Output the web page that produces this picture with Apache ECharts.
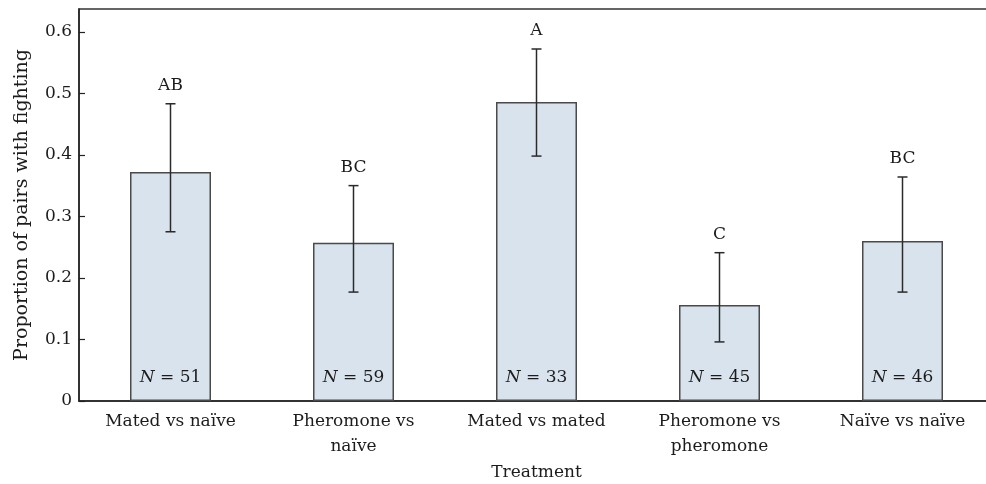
<!DOCTYPE html>
<html>
<head>
<meta charset="utf-8">
<script src="https://cdn.jsdelivr.net/npm/echarts@6/dist/echarts.min.js"></script>
<style>
  html, body { margin: 0; padding: 0; background: #fff; }
  #chart { width: 986px; height: 484px; }
</style>
</head>
<body>
<div id="chart"></div>
<script>
// Proportion of pairs with fighting by treatment, with 95% CI and group letters
const categories = ['Mated vs naïve', 'Pheromone vs\nnaïve', 'Mated vs mated', 'Pheromone vs\npheromone', 'Naïve vs naïve'];
const proportions = [0.372, 0.257, 0.486, 0.156, 0.260];
const lowerCI = [0.275, 0.177, 0.398, 0.096, 0.177];
const upperCI = [0.483, 0.350, 0.572, 0.241, 0.364];
const sampleSizes = [51, 59, 33, 45, 46];
const groupLetters = ['AB', 'BC', 'A', 'C', 'BC'];
const yTicks = [0, 0.1, 0.2, 0.3, 0.4, 0.5, 0.6];

const serif = '"DejaVu Serif", "Liberation Serif", serif';
const ink = '#1c1c1c';
const fs = 17;

const chart = echarts.init(document.getElementById('chart'), null, { renderer: 'canvas' });

const barData = proportions.map((v, i) => ({
  value: v,
  label: {
    show: true,
    position: 'insideBottom',
    distance: 15,
    formatter: '{n|N} = ' + sampleSizes[i],
    fontFamily: serif,
    fontSize: fs,
    color: ink,
    rich: { n: { fontFamily: serif, fontStyle: 'italic', fontSize: fs, color: ink } }
  }
}));

const errorData = categories.map((c, i) => [i, lowerCI[i], upperCI[i], groupLetters[i]]);

chart.setOption({
  animation: false,
  backgroundColor: '#fff',
  grid: {
    left: 79, top: 9, width: 915, height: 392,
    outerBoundsMode: 'none',
    containLabel: false,
    show: true, borderColor: '#333', borderWidth: 1.5, backgroundColor: 'transparent'
  },
  xAxis: {
    type: 'category',
    data: categories,
    name: 'Treatment',
    nameLocation: 'middle',
    nameGap: 62,
    nameTextStyle: { fontFamily: serif, fontSize: fs, color: ink },
    axisLine: { lineStyle: { color: '#222', width: 1.5 } },
    axisTick: { show: false },
    axisLabel: { fontFamily: serif, fontSize: fs, color: ink, margin: 8, lineHeight: 25, interval: 0 }
  },
  yAxis: {
    type: 'value',
    min: 0, max: 0.637, interval: 0.1,
    name: 'Proportion of pairs with fighting',
    nameLocation: 'middle',
    nameGap: 47,
    nameTextStyle: { fontFamily: serif, fontSize: 19, color: ink },
    splitLine: { show: false },
    axisLine: { show: true, lineStyle: { color: '#222', width: 1.5 } },
    axisTick: { show: true, inside: true, length: 6, lineStyle: { color: '#222', width: 1.2 } },
    axisLabel: {
      fontFamily: serif, fontSize: fs, color: ink, margin: 7, showMaxLabel: false,
      formatter: v => {
        const t = yTicks.find(k => Math.abs(k - v) < 1e-6);
        if (t === undefined) return '';
        return t === 0 ? '0' : t.toFixed(1);
      }
    }
  },
  series: [
    {
      type: 'bar',
      data: barData,
      barWidth: 81,
      itemStyle: { color: '#d9e3ee', borderColor: '#4a4a4a', borderWidth: 1.5 },
      z: 2
    },
    {
      type: 'custom',
      data: errorData,
      z: 5,
      renderItem: (params, api) => {
        const x = api.value(0);
        const lo = api.coord([x, api.value(1)]);
        const hi = api.coord([x, api.value(2)]);
        const cap = 5;
        const style = { stroke: '#2a2a2a', lineWidth: 1.5 };
        return {
          type: 'group',
          children: [
            { type: 'line', shape: { x1: lo[0], y1: lo[1], x2: hi[0], y2: hi[1] }, style },
            { type: 'line', shape: { x1: hi[0] - cap, y1: hi[1], x2: hi[0] + cap, y2: hi[1] }, style },
            { type: 'line', shape: { x1: lo[0] - cap, y1: lo[1], x2: lo[0] + cap, y2: lo[1] }, style },
            {
              type: 'text',
              style: {
                text: errorData[params.dataIndex][3],
                x: hi[0], y: hi[1] - 10,
                textAlign: 'center', textVerticalAlign: 'bottom',
                fontFamily: serif, fontSize: fs, fill: ink
              }
            }
          ]
        };
      }
    }
  ]
});
</script>
</body>
</html>
